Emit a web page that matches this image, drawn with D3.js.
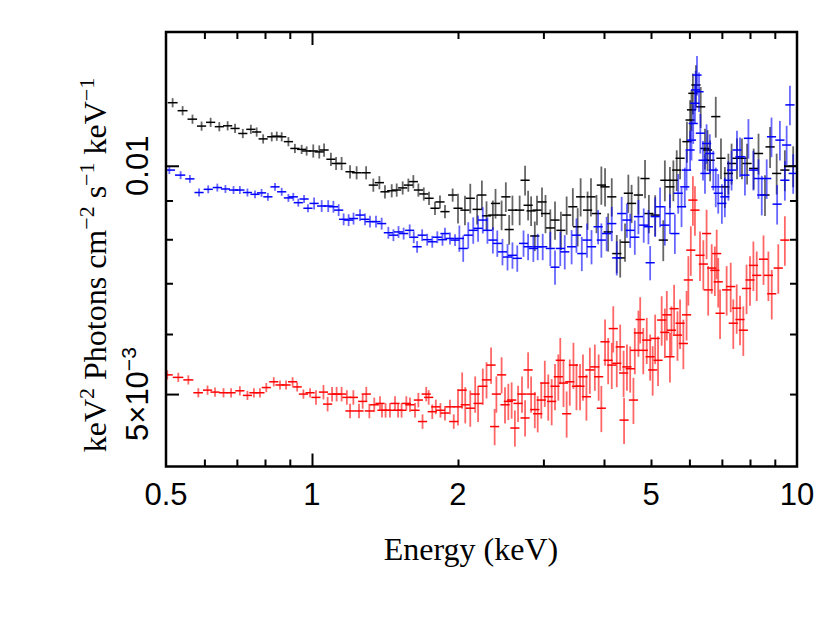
<!DOCTYPE html>
<html>
<head>
<meta charset="utf-8">
<script src="https://cdn.jsdelivr.net/npm/d3@7"></script>
<style>
body { margin: 0; background: #fff; }
</style>
</head>
<body>
<svg></svg>
<script>
const width = 830;
const height = 619;

// energy in keV, flux in units of 1e-3 keV^2 photons cm^-2 s^-1 keV^-1
const blackE = [0.516,0.541,0.567,0.592,0.618,0.644,0.670,0.694,0.720,0.748,
	0.769,0.793,0.826,0.846,0.866,0.894,0.922,0.952,0.975,1.006,
	1.035,1.059,1.094,1.121,1.151,1.198,1.236,1.293,1.338,1.377,
	1.414,1.460,1.495,1.538,1.580,1.618,1.657,1.700,1.743,1.793,
	1.836,1.880,1.950,2.000,2.067,2.120,2.190,2.240,2.290,2.360,
	2.390,2.460,2.510,2.550,2.590,2.680,2.750,2.790,2.830,2.880,
	2.910,2.980,3.030,
	3.10,3.17,3.26,3.35,3.45,3.53,3.58,3.70,3.76,3.86,
	3.95,4.02,4.08,4.15,4.25,4.32,4.42,4.49,4.56,4.71,
	4.86,4.95,5.10,5.30,5.34,5.47,5.56,5.65,5.74,5.93,
	6.02,6.06,6.10,6.19,6.33,6.46,6.54,6.62,6.80,6.97,
	7.10,7.22,7.33,7.52,7.70,7.89,8.14,8.33,8.59,8.80,
	9.08,9.44,9.82];
const blackFlux = [12.11,11.82,11.52,11.28,11.41,11.26,11.29,11.20,11.03,11.17,
	11.08,10.85,10.92,10.94,10.92,10.76,10.54,10.51,10.46,10.46,
	10.43,10.49,10.20,10.07,10.07,9.82,9.79,9.79,9.43,9.50,
	9.24,9.27,9.29,9.35,9.43,9.53,9.29,9.18,9.06,8.79,
	8.96,8.70,9.15,8.79,8.74,9.06,8.76,9.15,8.59,8.61,
	8.92,8.61,9.10,8.24,8.74,8.74,9.57,8.87,8.72,8.08,
	8.74,8.96,8.65,
	8.28,8.48,8.22,8.61,8.83,8.31,9.10,8.74,9.10,8.65,
	9.43,9.38,8.18,9.10,7.66,7.56,7.93,9.20,8.92,9.15,
	9.62,8.65,8.61,7.98,9.57,9.38,9.57,9.87,10.23,10.76,
	11.49,11.85,12.46,12.78,11.96,10.54,10.49,10.17,11.61,10.23,
	9.38,9.77,10.07,10.23,10.23,10.07,9.92,10.38,9.15,10.59,
	9.77,9.87,9.99];

const blueE = [0.508,0.536,0.560,0.585,0.611,0.638,0.663,0.689,0.710,0.736,
	0.763,0.787,0.811,0.839,0.866,0.894,0.915,0.937,0.963,0.981,
	1.010,1.047,1.080,1.107,1.135,1.162,1.190,1.218,1.256,1.286,
	1.317,1.355,1.392,1.437,1.472,1.508,1.545,1.590,1.621,1.647,
	1.687,1.728,1.770,1.813,1.858,1.880,1.925,1.972,2.013,2.050,
	2.100,2.150,2.200,2.250,2.300,2.360,2.410,2.470,2.530,2.590,
	2.650,2.730,2.790,2.860,2.920,2.990,3.10,3.17,3.25,3.32,
	3.43,3.51,3.60,3.69,3.77,3.89,3.95,4.05,4.15,4.25,
	4.35,4.46,4.53,4.63,4.71,4.83,4.94,4.98,5.10,5.22,
	5.34,5.47,5.60,5.69,5.78,5.87,5.92,6.02,6.06,6.11,
	6.16,6.18,6.22,6.28,6.32,6.40,6.46,6.51,6.61,6.72,
	6.80,6.88,7.00,7.10,7.22,7.33,7.52,7.63,7.81,7.94,
	8.13,8.33,8.46,8.66,8.86,9.10,9.22,9.44,9.52,9.67,
	9.82];
const blueFlux = [9.87,9.72,9.61,9.22,9.31,9.36,9.32,9.29,9.29,9.22,
	9.17,9.21,9.10,9.38,9.24,9.07,9.10,8.94,9.04,8.79,
	8.92,8.85,8.85,8.83,8.74,8.50,8.48,8.52,8.61,8.50,
	8.44,8.44,8.39,8.16,8.10,8.18,8.14,8.22,8.05,7.82,
	8.10,7.99,7.94,8.05,7.99,8.14,8.02,7.98,8.02,7.78,
	8.10,8.22,8.27,8.48,8.22,7.98,7.90,7.70,7.58,7.62,
	7.55,7.90,7.82,7.78,7.82,7.82,7.78,7.35,7.78,7.70,
	7.82,8.10,7.66,7.98,7.82,8.31,7.98,8.14,8.39,7.56,
	8.65,8.48,8.22,8.05,8.57,8.35,8.31,7.45,8.57,8.83,
	8.35,8.65,8.14,9.20,8.83,9.38,9.87,10.49,10.81,11.37,
	12.09,12.59,13.17,12.52,11.04,10.17,9.77,10.70,10.38,9.87,
	9.38,9.20,8.92,9.10,9.57,9.87,10.49,10.28,9.72,10.87,
	9.87,9.62,9.15,9.62,10.92,8.90,10.81,9.57,10.65,12.03,
	9.77];

const redE = [0.503,0.530,0.556,0.583,0.609,0.631,0.657,0.681,0.710,0.736,
	0.759,0.781,0.805,0.834,0.859,0.884,0.912,0.932,0.960,0.991,
	1.019,1.056,1.077,1.100,1.124,1.151,1.180,1.198,1.217,1.250,
	1.272,1.294,1.313,1.344,1.381,1.394,1.418,1.448,1.483,1.505,
	1.530,1.565,1.592,1.631,1.657,1.690,1.720,1.740,1.770,1.800,
	1.840,1.880,1.925,1.960,2.000,2.040,2.070,2.120,2.170,2.200,
	2.250,2.290,2.340,2.380,2.400,2.460,2.500,2.540,2.580,2.620,
	2.660,2.710,2.750,2.790,2.830,2.880,2.920,2.970,3.020,3.070,
	3.120,3.170,3.220,3.250,3.300,3.350,3.400,3.460,3.510,3.570,
	3.620,3.680,3.740,3.830,3.900,3.950,4.020,4.080,4.150,4.180,
	4.250,4.320,4.390,4.400,4.460,4.530,4.600,4.630,4.710,4.750,
	4.820,4.900,4.980,5.040,5.100,5.170,5.260,5.340,5.390,5.470,
	5.510,5.580,5.670,5.740,5.830,5.920,5.970,6.040,6.100,6.160,
	6.310,6.410,6.510,6.560,6.670,6.770,6.830,6.880,6.940,7.160,
	7.300,7.390,7.510,7.630,7.750,7.870,8.000,8.130,8.260,8.530,
	8.730,8.870,9.150,9.440];
const redFlux = [5.30,5.26,5.22,5.02,5.06,5.03,5.02,5.02,5.05,4.98,
	5.02,5.02,5.10,5.19,5.14,5.14,5.19,5.11,5.00,5.02,
	4.95,5.03,4.85,5.00,5.00,5.00,4.95,4.75,4.95,4.75,
	4.89,5.00,4.75,4.84,4.86,4.76,4.76,4.76,4.86,4.76,
	4.76,4.86,4.84,4.76,4.91,4.60,5.00,4.95,4.74,4.81,
	4.76,4.72,4.81,4.60,4.81,5.06,4.84,4.79,5.00,4.86,
	5.12,5.22,5.46,4.53,5.00,5.30,4.84,4.89,4.91,4.51,
	4.86,5.00,4.65,5.38,5.00,4.77,4.71,4.91,5.17,4.96,
	4.89,5.12,5.27,5.54,5.17,4.71,5.19,5.46,5.12,5.12,
	5.27,4.96,5.38,5.43,5.27,4.79,5.86,5.54,5.46,6.10,
	5.49,5.77,5.33,4.62,5.43,5.40,4.91,5.71,6.02,6.27,
	5.71,5.89,5.60,5.38,5.92,5.54,6.26,6.03,6.36,5.60,
	6.07,6.48,5.98,6.20,5.83,6.36,7.07,7.74,9.01,8.74,
	7.62,7.42,8.14,6.86,7.33,7.28,7.66,7.03,6.39,6.86,
	6.93,6.20,6.49,6.27,6.07,6.89,7.07,7.39,7.17,7.53,
	7.17,6.78,7.33,7.98];

// relative 1-sigma errors per energy band (keV)
const bandEdges = [0.5, 1, 2, 3, 5, 10];
const blackErr = [0.014, 0.02, 0.045, 0.058, 0.062];
const blueErr = [0.012, 0.018, 0.04, 0.052, 0.06];
const redErr = [0.014, 0.022, 0.055, 0.07, 0.075];

const xLabelValues = [0.5, 1, 2, 5, 10];
const xMajorTicks = [1];
const xMinorTicks = [0.6, 0.7, 0.8, 0.9, 2, 3, 4, 5, 6, 7, 8, 9];
const yMajorTicks = [0.01];
const yMinorTicks = [0.005, 0.006, 0.007, 0.008, 0.009];
const yLabelValues = [0.005, 0.01];

const plotLeft = 166, plotRight = 797, plotTop = 32, plotBottom = 466.5;

const svg = d3.select('svg')
	.attr('width', width)
	.attr('height', height);

const x = d3.scaleLog().domain([0.5, 10]).range([plotLeft, plotRight]);
const y = d3.scaleLog().domain([0.004013, 0.01501]).range([plotBottom, plotTop]);

function relErr(e, errs) {
	const i = Math.min(d3.bisectRight(bandEdges, e) - 1, errs.length - 1);
	return errs[Math.max(i, 0)];
}

// smallest half bin, as a factor in energy
const minHalfBin = 1.022;

function drawSeries(E, F, errs, color) {
	const pts = E.map((e, i) => ({e: e, v: F[i] * 1e-3, r: relErr(e, errs)}))
		.sort((a, b) => a.e - b.e);
	pts.forEach((p, i) => {
		const prev = i > 0 ? pts[i-1].e : p.e * p.e / pts[i+1].e;
		const next = i < pts.length - 1 ? pts[i+1].e : p.e * p.e / pts[i-1].e;
		p.lo = Math.max(Math.min(Math.sqrt(prev * p.e), p.e / minHalfBin), 0.5);
		p.hi = Math.min(Math.max(Math.sqrt(p.e * next), p.e * minHalfBin), 10);
	});
	const g = svg.append('g');
	g.selectAll('line.v')
		.data(pts)
		.enter()
		.append('line')
		.attr('class', 'v')
		.attr('x1', d => x(d.e))
		.attr('x2', d => x(d.e))
		.attr('y1', d => y(d.v * (1 - d.r)))
		.attr('y2', d => y(d.v * (1 + d.r)))
		.attr('stroke', color)
		.attr('stroke-opacity', 0.6)
		.attr('stroke-width', 1.8);
	g.selectAll('line.h')
		.data(pts)
		.enter()
		.append('line')
		.attr('class', 'h')
		.attr('x1', d => x(d.lo))
		.attr('x2', d => x(d.hi))
		.attr('y1', d => y(d.v))
		.attr('y2', d => y(d.v))
		.attr('stroke', color)
		.attr('stroke-width', 1.5);
}

drawSeries(blackE, blackFlux, blackErr, '#000');
drawSeries(redE, redFlux, redErr, '#ff0000');
drawSeries(blueE, blueFlux, blueErr, '#0000ff');

// ticks, drawn inward on all four sides
function tickAxis(axis, values, size, transform) {
	const g = svg.append('g')
		.attr('transform', transform)
		.call(axis.tickValues(values).tickSize(size).tickFormat(''));
	g.select('.domain').remove();
	g.selectAll('line').attr('stroke', '#000').attr('stroke-width', 2);
}
tickAxis(d3.axisBottom(x), xMajorTicks, -13, `translate(0,${plotBottom})`);
tickAxis(d3.axisBottom(x), xMinorTicks, -7, `translate(0,${plotBottom})`);
tickAxis(d3.axisTop(x), xMajorTicks, -13, `translate(0,${plotTop})`);
tickAxis(d3.axisTop(x), xMinorTicks, -7, `translate(0,${plotTop})`);
tickAxis(d3.axisLeft(y), yMajorTicks.concat([0.005]), -13, `translate(${plotLeft},0)`);
tickAxis(d3.axisLeft(y), yMinorTicks.slice(1), -7, `translate(${plotLeft},0)`);
tickAxis(d3.axisRight(y), yMajorTicks, -13, `translate(${plotRight},0)`);
tickAxis(d3.axisRight(y), yMinorTicks, -7, `translate(${plotRight},0)`);

svg.append('rect')
	.attr('x', plotLeft)
	.attr('y', plotTop)
	.attr('width', plotRight - plotLeft)
	.attr('height', plotBottom - plotTop)
	.attr('fill', 'none')
	.attr('stroke', '#000')
	.attr('stroke-width', 2.5);

// x tick labels
svg.append('g').selectAll('text')
	.data(xLabelValues)
	.enter()
	.append('text')
	.attr('x', d => x(d))
	.attr('y', 505)
	.attr('text-anchor', 'middle')
	.attr('font-family', 'Liberation Sans, Arial, sans-serif')
	.attr('font-size', 31)
	.text(d => d);

// y tick labels, rotated
const yLab = svg.append('g').selectAll('text')
	.data(yLabelValues)
	.enter()
	.append('text')
	.attr('transform', d => `translate(148,${y(d)}) rotate(-90)`)
	.attr('text-anchor', 'middle')
	.attr('font-family', 'Liberation Sans, Arial, sans-serif')
	.attr('font-size', 31);
yLab.each(function(d) {
	const t = d3.select(this);
	if (d === 0.01) {
		t.text('0.01');
	} else {
		t.append('tspan').text('5×10');
		t.append('tspan').attr('font-size', 21).attr('dy', -12).text('−3');
	}
});

svg.append('text')
	.attr('x', 471)
	.attr('y', 560)
	.attr('text-anchor', 'middle')
	.attr('font-family', 'Liberation Serif, Times New Roman, serif')
	.attr('font-size', 32)
	.text('Energy (keV)');

const yTitle = svg.append('text')
	.attr('transform', 'translate(106,265) rotate(-90)')
	.attr('text-anchor', 'middle')
	.attr('font-family', 'Liberation Serif, Times New Roman, serif')
	.attr('font-size', 32);
const titleParts = [['keV', false], ['2', true], [' Photons cm', false], ['−2', true],
	[' s', false], ['−1', true], [' keV', false], ['−1', true]];
let raised = false;
titleParts.forEach(([txt, sup]) => {
	const ts = yTitle.append('tspan').text(txt);
	if (sup) {
		ts.attr('font-size', 22).attr('dy', raised ? 0 : -12);
		raised = true;
	} else {
		ts.attr('dy', raised ? 12 : 0);
		raised = false;
	}
});
</script>
</body>
</html>
